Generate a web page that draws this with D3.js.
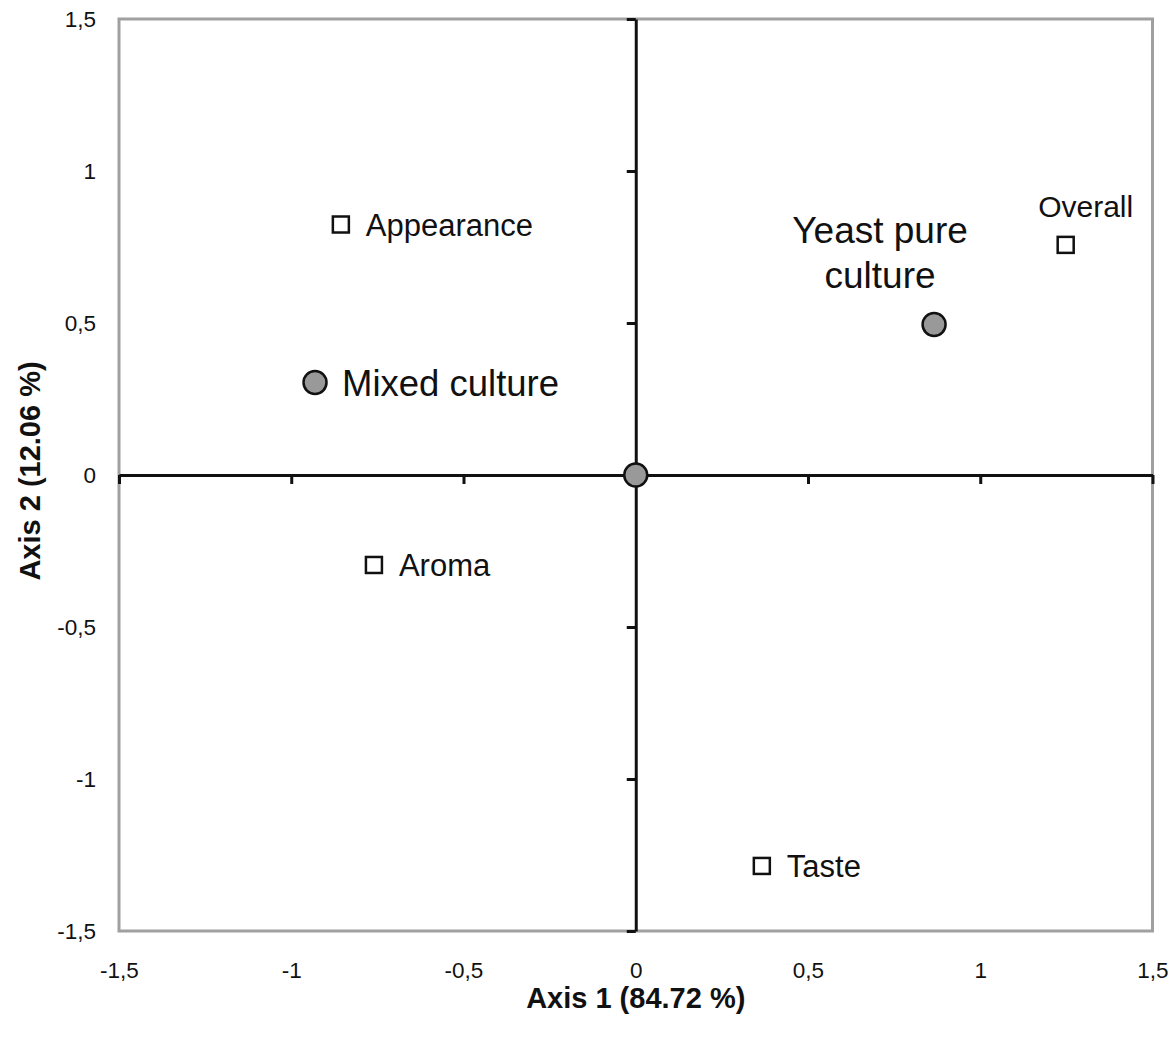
<!DOCTYPE html>
<html>
<head>
<meta charset="utf-8">
<script src="https://cdn.jsdelivr.net/npm/d3@7"></script>
<style>
  body { margin: 0; background: #fff; }
  text { font-family: "Liberation Sans", Arial, sans-serif; fill: #111; }
</style>
</head>
<body>
<div id="chart"></div>
<script>
// Sensory attributes (open squares)
const attrNames = ["Appearance", "Overall", "Aroma", "Taste"];
const attrX = [-0.856, 1.248, -0.760, 0.366];
const attrY = [0.824, 0.757, -0.296, -1.286];

// Cultures (grey circles), last one is the centre point
const groupNames = ["Mixed culture", "Yeast pure culture", ""];
const groupX = [-0.931, 0.866, 0];
const groupY = [0.304, 0.495, 0];

const tickValues = [-1.5, -1, -0.5, 0, 0.5, 1, 1.5];
const xTitle = "Axis 1 (84.72 %)";
const yTitle = "Axis 2 (12.06 %)";

const W = 1172, H = 1040;
const m = { left: 119, right: 19.5, top: 19, bottom: 109 };

const svg = d3.select("#chart").append("svg")
    .attr("width", W)
    .attr("height", H);

const x = d3.scaleLinear().domain([-1.5, 1.5]).range([m.left, W - m.right]);
const y = d3.scaleLinear().domain([-1.5, 1.5]).range([H - m.bottom, m.top]);

const fmt = d => String(d).replace(".", ",");

// grey frame
svg.append("rect")
    .attr("x", x(-1.5))
    .attr("y", y(1.5))
    .attr("width", x(1.5) - x(-1.5))
    .attr("height", y(-1.5) - y(1.5))
    .attr("fill", "none")
    .attr("stroke", "#a0a0a0")
    .attr("stroke-width", 3);

// tick labels along the frame
const xLab = svg.append("g")
    .attr("transform", "translate(0," + y(-1.5) + ")")
    .call(d3.axisBottom(x).tickValues(tickValues).tickFormat(fmt).tickSize(0).tickPadding(31));
xLab.select(".domain").remove();

const yLab = svg.append("g")
    .attr("transform", "translate(" + x(-1.5) + ",0)")
    .call(d3.axisLeft(y).tickValues(tickValues).tickFormat(fmt).tickSize(0).tickPadding(23));
yLab.select(".domain").remove();

svg.selectAll(".tick text")
    .attr("font-size", 22.5)
    .attr("font-family", "Liberation Sans, Arial, sans-serif")
    .attr("fill", "#111");

// black axes through the origin
const xAxis = svg.append("g")
    .attr("transform", "translate(0," + y(0) + ")")
    .call(d3.axisBottom(x).tickValues(tickValues).tickFormat("").tickSize(9).tickSizeOuter(0));
const yAxis = svg.append("g")
    .attr("transform", "translate(" + x(0) + ",0)")
    .call(d3.axisLeft(y).tickValues(tickValues).tickFormat("").tickSize(9).tickSizeOuter(0));
[xAxis, yAxis].forEach(a => {
    a.selectAll("path, line").attr("stroke", "#111").attr("stroke-width", 3);
});

// axis titles
svg.append("text")
    .attr("x", x(0))
    .attr("y", 1008)
    .attr("text-anchor", "middle")
    .attr("font-size", 29)
    .attr("font-weight", "bold")
    .text(xTitle);

svg.append("text")
    .attr("transform", "translate(40," + (y(0) - 4) + ") rotate(-90)")
    .attr("text-anchor", "middle")
    .attr("font-size", 29)
    .attr("font-weight", "bold")
    .text(yTitle);

// attribute squares
const s = 16;
svg.selectAll("rect.attr")
    .data(attrNames)
    .enter()
    .append("rect")
    .attr("class", "attr")
    .attr("x", (d, i) => x(attrX[i]) - s / 2)
    .attr("y", (d, i) => y(attrY[i]) - s / 2)
    .attr("width", s)
    .attr("height", s)
    .attr("fill", "#fff")
    .attr("stroke", "#111")
    .attr("stroke-width", 2.5);

svg.selectAll("text.attr")
    .data(attrNames)
    .enter()
    .append("text")
    .attr("class", "attr")
    .attr("font-size", d => d === "Overall" ? 30 : 31)
    .attr("x", (d, i) => d === "Overall" ? x(attrX[i]) + 20 : x(attrX[i]) + 25)
    .attr("y", (d, i) => d === "Overall" ? y(attrY[i]) - 28 : y(attrY[i]) + 11)
    .attr("text-anchor", d => d === "Overall" ? "middle" : "start")
    .text(d => d);

// culture circles
svg.selectAll("circle")
    .data(groupNames)
    .enter()
    .append("circle")
    .attr("cx", (d, i) => x(groupX[i]))
    .attr("cy", (d, i) => y(groupY[i]))
    .attr("r", 11.5)
    .attr("fill", "#999")
    .attr("stroke", "#111")
    .attr("stroke-width", 2.5);

// culture labels
const mi = groupNames.indexOf("Mixed culture");
svg.append("text")
    .attr("x", x(groupX[mi]) + 27)
    .attr("y", y(groupY[mi]) + 13)
    .attr("font-size", 36.5)
    .text(groupNames[mi]);

const yi = groupNames.indexOf("Yeast pure culture");
const yeastText = svg.append("text")
    .attr("text-anchor", "middle")
    .attr("font-size", 37);
yeastText.append("tspan")
    .attr("x", x(groupX[yi]) - 54)
    .attr("y", y(groupY[yi]) - 82)
    .text("Yeast pure");
yeastText.append("tspan")
    .attr("x", x(groupX[yi]) - 54)
    .attr("y", y(groupY[yi]) - 37)
    .text("culture");
</script>
</body>
</html>
